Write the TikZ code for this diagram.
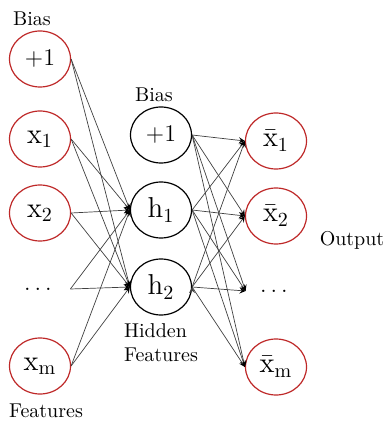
\documentclass[tikz,border=0pt]{standalone}
\usepackage{amsmath}
\usepackage{tikz}
\usetikzlibrary{shapes.geometric, positioning, arrows}
\usepackage{xcolor}
\definecolor{unitred}{RGB}{190,40,40}

\begin{document}
\begin{tikzpicture}[x=0.5pt, y=-0.5pt, on grid,
    inunit/.style={draw=unitred, ellipse, minimum width=30.5pt, minimum height=28pt, inner sep=0pt, line width=0.6pt, font=\Large},
    hidunit/.style={inunit, draw=black},
    biasunit/.style={font=\large},
    dotunit/.style={minimum width=30pt, inner sep=0pt, font=\large}]
   \useasboundingbox (0,0) rectangle (383,421);

   % input layer
   \node[inunit, biasunit] (b_1) at (40,59) {$+1$};
   \node[inunit] (x_1) [below=40pt of b_1] {$\mathrm{x}_1$};
   \node[inunit] (x_2) [below=37pt of x_1] {$\mathrm{x}_2$};
   \node[dotunit] (x_d) [below=38pt of x_2] {$\dots$};
   \node[inunit] (x_m) [below=38.5pt of x_d] {$\mathrm{x}_\mathrm{m}$};

   % hidden layer
   \node[hidunit, biasunit] (b_2) at (161,135) {$+1$};
   \node[hidunit] (h_1) [below=37.5pt of b_2] {$\mathrm{h}_1$};
   \node[hidunit] (h_2) [below=38.5pt of h_1] {$\mathrm{h}_2$};

   % output layer
   \node[inunit] (y_1) at (276,141) {$\bar{\mathrm{x}}_1$};
   \node[inunit] (y_2) [below=37.5pt of y_1] {$\bar{\mathrm{x}}_2$};
   \node[dotunit] (y_d) [below=37.5pt of y_2] {$\dots$};
   \node[inunit] (y_m) [below=38pt of y_d] {$\bar{\mathrm{x}}_\mathrm{m}$};

   % labels
   \node (bias_in)  at (32,19)  {Bias};
   \node (bias_hid) at (154,95) {Bias};
   \node[align=left] (hid_lbl) at (161,343) {Hidden\\Features};
   \node (feat_lbl) at (46,411) {Features};
   \node (out_lbl)  at (352,240) {Output};

   \path[->, >=stealth, draw=black!75, line width=0.35pt]
    % inputs to hidden
    (b_1.east) edge (h_1.west)
    (b_1.east) edge (h_2.west)
    (x_1.east) edge (h_1.west)
    (x_1.east) edge (h_2.west)
    (x_2.east) edge (h_1.west)
    (x_2.east) edge (h_2.west)
    (x_d.east) edge (h_1.west)
    (x_d.east) edge (h_2.west)
    (x_m.east) edge (h_1.west)
    (x_m.east) edge (h_2.west)

    % hidden to outputs
    (b_2.east) edge (y_1.west)
    (b_2.east) edge (y_2.west)
    (b_2.east) edge (y_d.west)
    (b_2.east) edge (y_m.west)
    (h_1.east) edge (y_1.west)
    (h_1.east) edge (y_2.west)
    (h_1.east) edge (y_d.west)
    (h_1.east) edge (y_m.west)
    (h_2.east) edge (y_1.west)
    (h_2.east) edge (y_2.west)
    (h_2.east) edge (y_d.west)
    (h_2.east) edge (y_m.west)
    ;
\end{tikzpicture}
\end{document}
